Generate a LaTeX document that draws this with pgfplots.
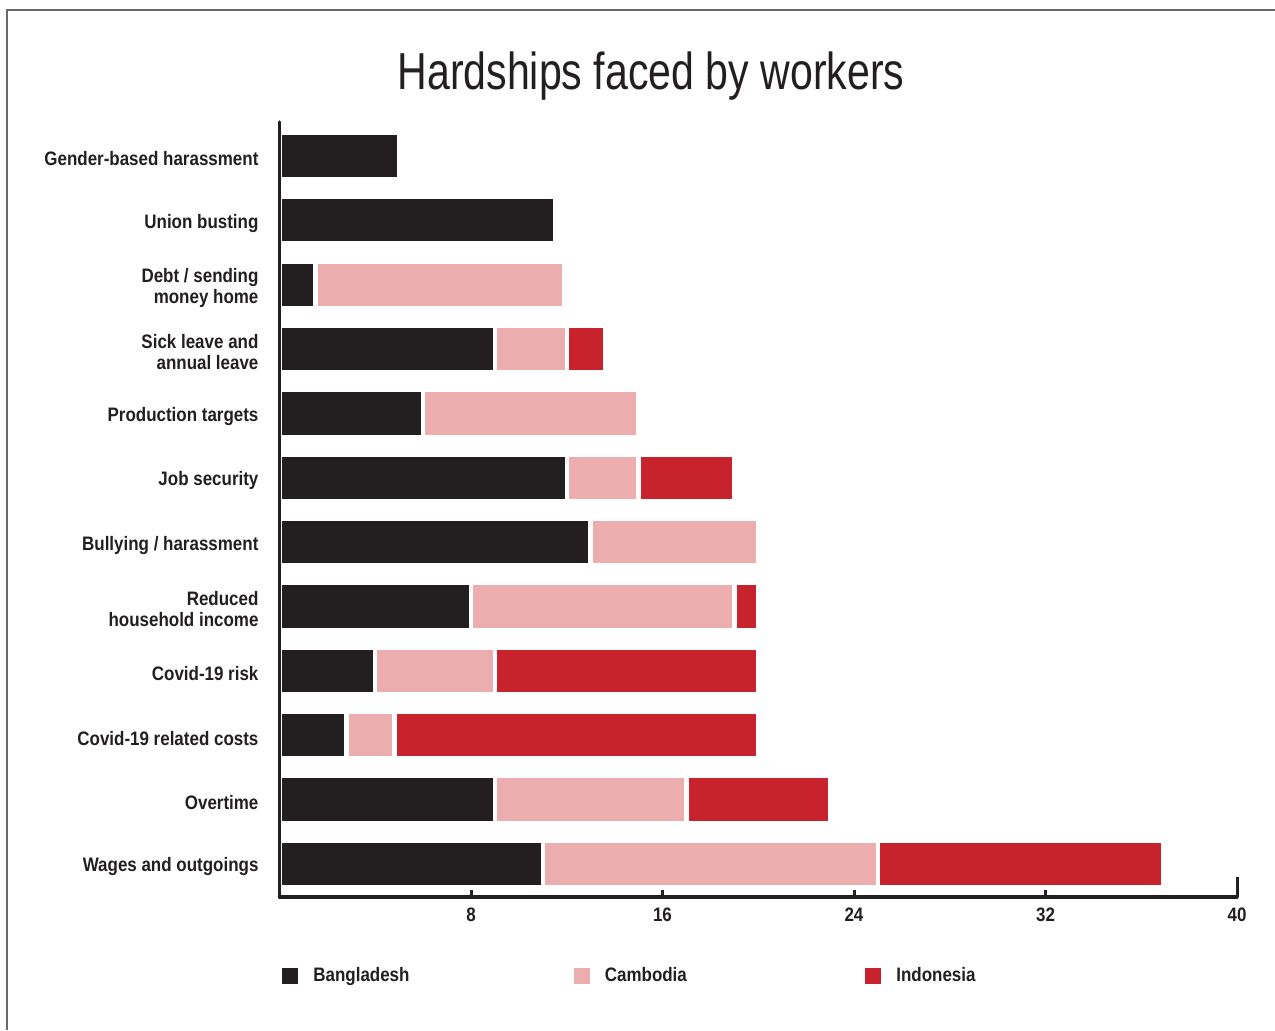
\documentclass[border=0pt]{standalone}
\usepackage{pgfplots}
\pgfplotsset{compat=1.18}
\usepackage{fontspec}
\setmainfont{Liberation Sans}
\newfontfamily\labfont[FakeStretch=0.87]{Liberation Sans}
\newfontfamily\titfont[FakeStretch=0.79]{Liberation Sans}
\definecolor{bd}{RGB}{35,31,32}
\definecolor{kh}{RGB}{235,173,173}
\definecolor{idn}{RGB}{200,34,44}
\definecolor{framegray}{RGB}{105,105,105}
\newcommand{\lab}{\labfont\bfseries\fontsize{9.75}{10.5}\selectfont}
\begin{document}
\begin{tikzpicture}[x=1pt,y=1pt]
\path[use as bounding box] (0,0) rectangle (637.5,515);
\draw[framegray, line width=1pt] (3.5,0) -- (3.5,510) -- (637.5,510);
\begin{axis}[
  at={(139.75pt,66.5pt)}, anchor=south west,
  scale only axis, width=478.75pt, height=387.5pt,
  xbar stacked, bar width=23.4pt,
  xmin=0, xmax=40, ymin=-0.513, ymax=11.528,
  axis on top,
  axis x line*=bottom, axis y line*=left,
  axis line style={line width=1.75pt, draw=bd, line cap=round},
  xtick={8,16,24,32}, xticklabels={8,16,24,32},
  extra x ticks={40}, extra x tick labels={40},
  extra x tick style={major tick length=10pt},
  xtick pos=left, ytick pos=left, tick align=inside,
  major tick length=3.5pt,
  x tick style={line width=1.5pt, draw=bd},
  ytick={0,...,11},
  yticklabels={Wages and outgoings, Overtime, Covid-19 related costs, Covid-19 risk, {Reduced\\household income}, Bullying / harassment, Job security, Production targets, {Sick leave and\\annual leave}, {Debt / sending\\money home}, Union busting, Gender-based harassment},
  y tick style={draw=none},
  yticklabel style={align=right, font=\lab, text=bd, xshift=-7pt, yshift=-1.5pt},
  xticklabel style={font=\lab, text=bd, yshift=-1.75pt},
  title={Hardships faced by workers},
  title style={at={(0.388,1.0413)}, anchor=base, yshift=-6pt, font=\titfont\fontsize{26}{30}\selectfont, text=bd},
  legend style={at={(0.0026,-0.1019)}, anchor=west, draw=none, fill=none, inner sep=0pt, font=\lab, text=bd, legend columns=3, /tikz/every odd column/.append style={column sep=5.5pt}},
  legend image code/.code={\fill[#1,draw=none] (0pt,-4pt) rectangle (8pt,4pt);},
]
\addplot[fill=bd, draw=white, line width=2.25pt] coordinates {
(11,0) (9,1) (2.8,2) (4,3) (8,4) (13,5) (12,6) (6,7) (9,8) (1.5,9) (11.5,10) (5.0,11)};
\addlegendentry{\makebox[128.25pt][l]{Bangladesh}}
\addplot[fill=kh, draw=white, line width=2.25pt] coordinates {
(14,0) (8,1) (2.0,2) (5,3) (11,4) (7,5) (3,6) (9,7) (3,8) (10.4,9) (0,10) (0,11)};
\addlegendentry{\makebox[128.25pt][l]{Cambodia}}
\addplot[fill=idn, draw=white, line width=2.25pt] coordinates {
(11.9,0) (6,1) (15.2,2) (11,3) (1,4) (0,5) (4,6) (0,7) (1.6,8) (0,9) (0,10) (0,11)};
\addlegendentry{\makebox[128.25pt][l]{Indonesia}}
\end{axis}
\end{tikzpicture}
\end{document}
